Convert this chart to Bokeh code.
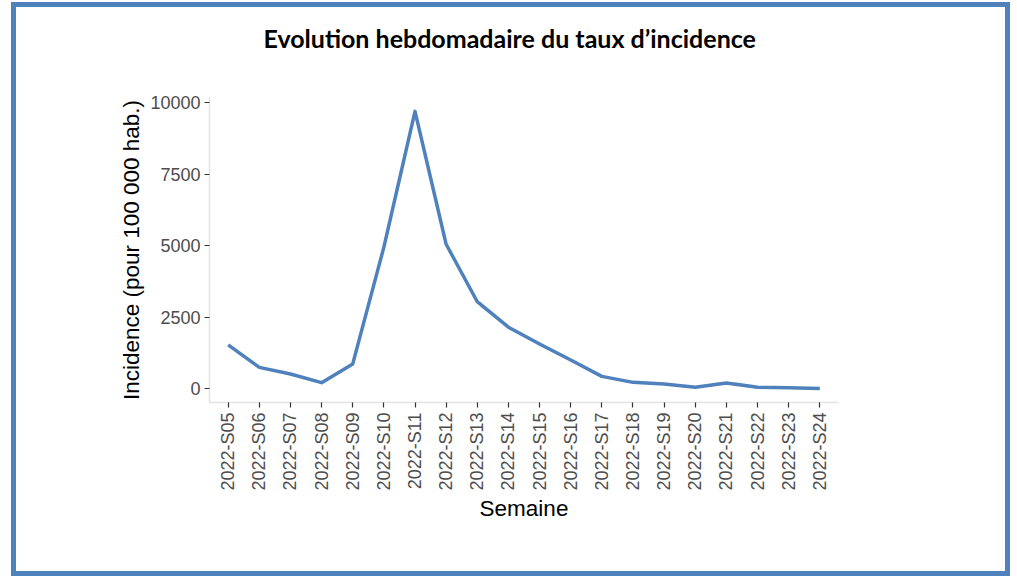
import math
from bokeh.plotting import figure
from bokeh.models import FactorRange, Range1d, FixedTicker, Title, ColumnDataSource
from bokeh.embed import file_html
from bokeh.resources import INLINE

weeks = ["2022-S05", "2022-S06", "2022-S07", "2022-S08", "2022-S09", "2022-S10",
         "2022-S11", "2022-S12", "2022-S13", "2022-S14", "2022-S15", "2022-S16",
         "2022-S17", "2022-S18", "2022-S19", "2022-S20", "2022-S21", "2022-S22",
         "2022-S23", "2022-S24"]
incidence = [1530, 745, 510, 210, 865, 4950, 9700, 5050, 3040, 2150,
             1560, 1000, 430, 220, 160, 45, 200, 45, 35, 5]
yticks = [0, 2500, 5000, 7500, 10000]

title_text = "Evolution hebdomadaire du taux d\u2019incidence"
x_label = "Semaine"
y_label = "Incidence (pour 100 000 hab.)"

source = ColumnDataSource(dict(week=weeks, incidence=incidence))

p = figure(
    x_range=FactorRange(*weeks, range_padding=0.1, range_padding_units="absolute"),
    y_range=Range1d(-485, 10185),
    width=1079, height=654,
    output_backend="svg", toolbar_location=None,
    min_border_left=238, min_border_right=212,
    min_border_top=135, min_border_bottom=214,
)

p.line(x="week", y="incidence", source=source, line_color="#4F81BD",
       line_width=3.5, line_join="round")

p.xgrid.visible = False
p.ygrid.visible = False
p.outline_line_color = None
p.background_fill_color = None
p.border_fill_color = None

p.yaxis.ticker = FixedTicker(ticks=yticks)
p.xaxis.major_label_orientation = math.pi / 2

for ax in (p.xaxis[0], p.yaxis[0]):
    ax.axis_line_color = "#E3E3E3"
    ax.axis_line_width = 1.5
    ax.major_tick_line_color = "#333333"
    ax.major_tick_line_width = 1.2
    ax.major_tick_out = 5
    ax.major_tick_in = 0
    ax.minor_tick_out = 0
    ax.minor_tick_in = 0
    ax.major_label_text_font = "Liberation Sans"
    ax.major_label_text_font_size = "18px"
    ax.major_label_text_color = "#4D4D4D"
    ax.axis_label_text_font = "Liberation Sans"
    ax.axis_label_text_font_size = "22.5px"
    ax.axis_label_text_font_style = "normal"
    ax.axis_label_text_color = "black"

p.xaxis.axis_label = x_label
p.yaxis.axis_label = y_label
p.yaxis.major_label_standoff = 4
p.xaxis.major_label_standoff = 5
p.yaxis.axis_label_standoff = 3
p.xaxis.axis_label_standoff = 2

p.title = Title(text=title_text, align="left", offset=54, standoff=90,
                text_font="Lato", text_font_size="25px", text_font_style="bold",
                text_color="black")

p.styles = {"position": "fixed", "left": "-29px", "top": "-38px",
            "background-color": "white",
            "outline": "5px solid #4F81BD", "outline-offset": "-45px"}

open("out.html", "w").write(file_html(p, INLINE))
